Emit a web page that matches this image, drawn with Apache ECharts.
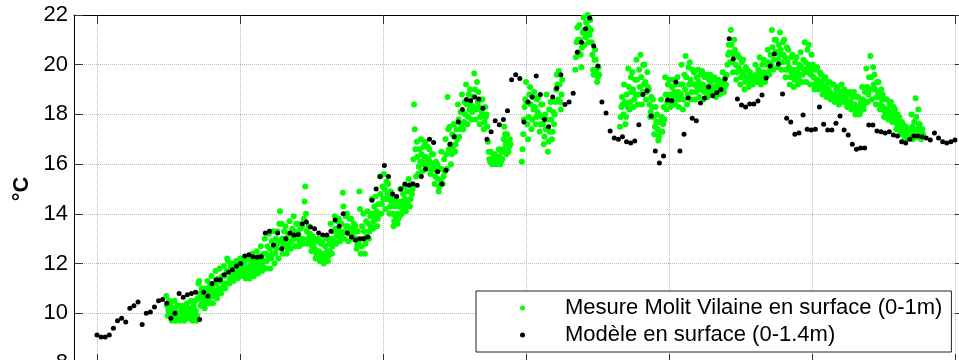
<!DOCTYPE html>
<html><head><meta charset="utf-8">
<script src="https://cdn.jsdelivr.net/npm/echarts@6/dist/echarts.min.js"></script>
<style>html,body{margin:0;padding:0;background:#fff}#c{width:959px;height:360px}</style>
</head><body><div id="c"></div>
<script>
// ---- data ----
const yTicks = [8, 10, 12, 14, 16, 18, 20, 22];
const xTickDays = [0, 34.84, 69.68, 104.52, 139.36, 174.2, 209.04];
const seriesNames = ['Mesure Molit Vilaine en surface (0-1m)', 'Modèle en surface (0-1.4m)'];
const yLabel = '°C';

// model: one value per day, from day 0
const modelValues = [
  9.13, 9.05, 9.05, 9.13, 9.4, 9.7, 9.8, 9.65, 10.2, 10.3,
  10.45, 9.55, 10.0, 10.05, 10.25, 10.5, 10.55, 10.4, 9.8, 10.0,
  10.8, 10.65, 10.75, 10.8, 10.85, 9.75, 10.85, 10.7, 11.2, 11.35,
  11.35, 11.55, 11.65, 11.75, 11.9, 12.0, 12.3, 12.35, 12.27, 12.25,
  12.27, 13.23, 13.3, 12.75, 13.23, 12.6, 13.0, 13.23, 13.15, 13.17,
  13.6, 13.67, 13.47, 13.4, 13.23, 13.15, 13.15, 13.3, 13.75, 13.5,
  14.0, 13.23, 13.07, 12.95, 13.0, 13.0, 13.07, 14.55, 15.0, 15.5,
  15.95, 15.5, 14.8, 14.7, 15.0, 15.2, 15.15, 15.2, 15.15, 15.5,
  15.8, 17.0, 16.87, 15.7, 15.2, 15.75, 16.8, 17.1, 17.7, 18.2,
  18.6, 18.55, 18.7, 18.62, 18.25, 17.0, 17.3, 17.75, 17.58, 17.8,
  18.15, 19.4, 19.6, 19.45, 17.7, 18.5, 18.7, 19.55, 18.8, 17.8,
  17.5, 18.7, 19.05, 19.6, 18.4, 18.5, 18.85, 20.5, 20.9, 21.45,
  21.88, 20.75, 19.95, 18.5, 18.06, 17.33, 17.05, 17.0, 17.1, 16.9,
  16.85, 16.93, 17.58, 18.8, 18.95, 17.94, 16.53, 16.05, 16.33, 18.58,
  18.55, 19.3, 16.53, 17.2, 18.66, 17.85, 17.75, 18.46, 18.66, 19.1,
  18.75, 18.87, 19.0, 19.43, 21.04, 20.23, 18.62, 18.38, 18.3, 18.42,
  18.42, 18.54, 18.78, 19.47, 19.95, 20.43, 20.03, 18.82, 17.85, 17.7,
  17.2, 17.25, 17.98, 17.4, 17.37, 17.4, 18.3, 17.6, 17.37, 17.37,
  17.65, 17.94, 17.37, 17.17, 16.8, 16.6, 16.65, 16.65, 17.57, 17.57,
  17.33, 17.3, 17.25, 17.3, 17.17, 17.13, 16.9, 16.85, 17.0, 17.13,
  17.13, 17.1, 17.05, 16.97, 17.25, 17.05, 16.9, 16.85, 16.9, 16.97
];

// measurements: segments of days, 6 readings per day
const measPerDay = 6;
const measStarts = [16.9, 103.5, 116.5, 127.4];
const measSeg1 = [
  [10.7,10.3,9.9,10.1,10.5,10.2],[10.4,10.0,9.7,9.8,10.2,9.9],[10.5,10.1,9.7,9.9,10.3,10.0],
  [10.3,9.9,9.7,9.8,10.1,10.0],[10.3,10.0,9.7,9.8,10.2,9.9],[10.4,10.1,9.8,9.9,10.2,10.0],
  [10.5,10.1,9.7,9.8,10.3,10.0],[10.5,10.1,9.7,9.9,10.6,11.2],[11.3,10.8,10.3,10.5,11.0,10.7],
  [10.9,10.5,10.2,10.4,11.0,10.6],[11.3,10.9,10.4,10.6,11.1,10.8],[11.5,11.0,10.4,10.7,11.2,10.9],
  [11.7,11.2,10.6,10.8,11.4,11.0],[11.8,11.3,10.8,11.0,11.5,11.2],[11.9,11.5,11.0,11.2,11.7,12.2],
  [12.1,11.7,11.2,11.4,11.9,11.6],[12.0,11.6,11.3,11.5,11.9,11.7],[12.1,11.8,11.4,11.6,12.0,11.7],
  [12.2,11.8,11.5,11.6,12.0,11.9],[12.1,11.7,11.4,11.6,12.2,11.8],[12.3,11.9,11.4,11.6,12.1,11.8],
  [12.4,12.0,11.5,11.7,12.2,11.9],[12.5,12.1,11.6,11.8,12.3,12.0],[12.7,12.2,11.7,11.9,12.4,12.1],
  [13.0,12.4,11.8,12.1,12.7,12.3],[13.2,12.6,11.8,12.2,12.9,12.4],[13.3,12.7,12.0,12.4,13.0,12.6],
  [13.3,12.8,12.2,13.6,14.1,12.9],[13.6,13.0,12.4,12.7,13.3,12.9],[13.5,13.0,12.4,12.6,13.2,12.8],
  [13.7,13.2,12.6,12.9,13.4,13.1],[13.9,13.3,12.7,13.0,13.6,13.2],[13.6,13.2,12.7,12.9,13.4,13.0],
  [13.5,13.0,12.8,13.8,14.5,15.1],[14.0,13.3,12.8,13.0,13.5,13.2],[13.2,12.9,12.5,12.7,13.1,12.8],
  [13.0,12.6,12.2,12.4,12.9,12.5],[13.0,12.5,12.1,12.3,12.8,12.4],[12.9,12.4,12.0,12.2,12.7,12.3],
  [13.0,12.5,12.1,12.3,12.8,12.5],[13.6,13.0,12.4,12.7,13.3,12.9],[13.9,13.4,12.8,13.1,13.7,13.3],
  [13.8,13.3,12.9,13.1,13.6,13.2],[14.85,14.3,13.0,13.3,13.9,13.5],[14.0,13.5,12.9,13.2,13.8,13.4],
  [13.8,13.4,13.0,13.2,13.6,13.3],[13.5,13.0,12.6,12.8,13.3,12.9],[14.9,14.2,12.4,12.7,13.5,13.0],
  [14.0,13.3,12.4,12.8,13.7,13.1],[14.1,13.6,13.0,13.3,13.9,13.5],[14.6,14.0,13.4,13.7,14.3,13.9],
  [14.7,14.1,13.5,13.8,14.4,14.0],[15.5,14.8,14.0,14.4,15.1,14.6],[15.6,15.0,14.2,14.6,15.3,14.8],
  [15.2,14.6,14.0,14.3,14.9,14.5],[14.6,14.0,13.5,13.7,14.3,13.9],[14.5,14.0,13.6,13.8,14.3,13.9],
  [15.0,14.5,14.0,14.2,14.8,14.4],[15.1,14.6,14.1,14.3,14.9,14.5],[15.4,14.9,14.3,14.6,15.2,14.8],
  [15.0,16.2,18.4,17.4,16.6,15.5],[16.9,16.3,15.6,15.9,16.6,16.1],[17.0,16.4,15.7,16.0,16.7,16.2],
  [16.9,16.3,15.8,16.0,16.7,16.2],[16.6,16.1,15.6,15.8,16.4,16.0],[16.4,15.8,15.2,15.5,16.1,15.7],
  [16.0,15.4,14.9,15.1,15.8,15.3],[16.5,15.8,15.2,15.5,16.2,15.7],[17.0,16.4,15.8,18.7,17.4,16.6],
  [17.5,16.8,16.0,16.4,17.2,16.7],[17.6,17.1,16.5,16.8,17.4,17.0],[18.4,17.8,17.1,17.4,18.1,17.6],
  [18.8,18.1,17.4,17.7,18.5,18.0],[19.2,18.4,17.6,17.9,18.8,18.2],[19.0,18.4,17.8,18.1,18.7,18.3],
  [19.65,19.0,17.8,18.2,19.3,18.5],[18.9,18.3,17.6,17.9,18.6,18.1],[18.6,18.0,17.4,17.7,18.3,17.9],
  [18.0,17.5,16.9,16.5,16.2,16.1],[16.5,16.2,16.0,16.1,16.4,16.2],[16.4,16.2,16.0,16.1,16.3,16.1],
  [16.6,16.3,16.0,16.1,16.5,16.2],[16.6,17.0,17.5,17.2,16.8,16.4],[17.2,16.9,16.5,16.7,17.0,16.8]
];
const measSeg2 = [
  [16.1,16.6,17.2,17.8,18.3,18.6],[19.3,18.5,17.6,17.0,17.9,18.8],[19.1,18.4,17.4,17.8,18.7,18.2],
  [18.9,18.3,17.6,17.9,18.6,18.1],[18.7,18.0,17.3,17.6,18.4,17.9],[18.4,17.6,16.8,17.1,18.0,17.4],
  [18.8,17.8,16.5,16.9,18.2,17.3],[18.5,17.8,17.0,17.3,18.1,17.6],[18.0,18.5,19.0,19.6,19.2,18.6],
  [19.75,19.2,18.5,18.2,18.8,19.4]
];
const measSeg3 = [
  [19.8,20.3,20.9,21.5,21.0,20.5],[21.6,21.0,20.4,19.9,20.7,21.3],[21.9,21.4,20.8,21.1,21.7,21.3],
  [22.0,21.5,20.9,21.2,21.8,21.4],[20.9,20.4,19.8,19.6,20.2,20.6],[20.2,19.8,19.3,19.5,19.9,19.6]
];
const measSeg4 = [
  [17.5,17.9,18.3,18.7,18.4,18.0],[19.2,18.5,17.6,17.9,18.8,18.3],[19.85,19.1,18.2,18.5,19.5,18.9],
  [19.7,19.0,18.3,18.6,19.4,18.8],[20.2,19.4,18.4,18.8,19.8,19.1],[20.4,19.5,18.4,18.9,20.0,19.2],
  [20.0,19.3,18.6,18.9,19.7,19.1],[19.0,18.4,17.9,18.1,18.7,18.3],[18.6,17.9,17.2,17.5,18.3,17.7],
  [18.0,17.4,16.95,17.1,17.7,17.3],[18.6,17.9,17.3,17.6,18.3,17.8],[19.5,18.8,18.2,18.5,19.2,18.7],
  [19.4,18.8,18.3,18.5,19.1,18.7],[19.4,18.9,18.4,18.6,19.2,18.8],[19.5,18.9,18.3,18.6,19.2,18.8],
  [20.0,19.2,18.2,18.6,19.6,19.0],[20.35,19.5,18.4,18.8,19.9,19.2],[20.1,19.4,18.6,18.9,19.8,19.2],
  [19.7,19.2,18.6,18.9,19.5,19.1],[19.8,19.3,18.7,19.0,19.6,19.2],[19.75,19.2,18.6,18.9,19.5,19.1],
  [19.6,19.1,18.7,18.9,19.4,19.0],[19.6,19.2,18.8,19.0,19.4,19.1],[19.5,19.1,18.7,18.9,19.3,19.0],
  [19.4,19.1,18.8,18.9,19.3,19.0],[19.7,19.3,18.9,19.1,19.5,19.2],[19.6,20.0,20.4,20.8,20.5,20.1],
  [21.4,20.8,20.1,19.7,20.4,21.0],[20.6,20.0,19.4,19.7,20.4,19.9],[20.3,19.8,19.2,19.5,20.1,19.7],
  [20.2,19.6,19.0,19.3,19.9,19.5],[19.8,19.4,19.1,19.3,19.7,19.4],[19.6,19.4,19.2,19.3,19.5,19.4],
  [20.0,19.6,19.3,19.4,19.8,19.5],[20.3,19.7,19.2,19.4,20.0,19.6],[20.2,19.7,19.3,19.5,20.0,19.6],
  [20.6,20.1,19.6,19.8,20.4,20.0],[21.4,20.7,19.8,20.2,21.0,20.5],[21.0,20.5,19.9,20.2,20.8,20.4],
  [21.3,20.6,19.8,20.1,20.9,20.4],[21.0,20.3,19.5,19.8,20.7,20.1],[20.6,19.9,19.2,19.5,20.3,19.7],
  [20.4,19.8,19.1,19.4,20.1,19.6],[20.3,19.8,19.2,19.4,20.0,19.6],[20.5,19.9,19.3,19.6,20.2,19.8],
  [20.9,20.1,19.3,19.7,20.6,19.9],[20.8,20.0,19.2,19.6,20.4,19.8],[20.0,19.5,19.0,19.2,19.8,19.4],
  [19.9,19.4,19.0,19.2,19.7,19.3],[19.6,19.2,18.8,19.0,19.4,19.1],[19.5,19.1,18.7,18.9,19.3,19.0],
  [19.3,18.9,18.6,18.7,19.2,18.8],[19.2,18.8,18.5,18.6,19.0,18.7],[19.1,18.7,18.4,18.5,18.9,18.6],
  [19.2,18.8,18.5,18.6,19.0,18.7],[18.9,18.6,18.3,18.4,18.8,18.5],[18.9,18.5,18.2,18.3,18.7,18.4],
  [18.9,18.4,18.0,18.2,18.7,18.3],[18.7,18.3,18.0,18.1,18.5,18.2],[19.1,18.6,18.2,18.4,18.9,18.5],
  [19.85,19.1,18.5,18.8,19.5,19.0],[20.35,19.5,18.6,19.0,19.9,19.2],[19.6,19.0,18.4,18.7,19.3,18.9],
  [19.3,18.7,18.2,18.4,19.0,18.6],[18.8,18.3,17.9,18.1,18.6,18.2],[18.6,18.2,17.8,18.0,18.4,18.1],
  [18.5,18.1,17.7,17.9,18.3,18.0],[18.2,17.8,17.4,17.6,18.0,17.7],[17.9,17.5,17.2,17.3,17.7,17.4],
  [17.6,17.3,17.0,17.1,17.5,17.2],[17.4,17.2,17.05,17.1,17.3,17.2],[18.0,17.5,17.0,17.2,17.7,17.3],
  [18.65,17.9,17.1,17.4,18.2,17.6],[17.6,17.3,17.0,17.1,17.4,17.2]
];

// ---- build series data ----
const modelData = modelValues.map((v, i) => [i, v]);
const measData = [];
[measSeg1, measSeg2, measSeg3, measSeg4].forEach((seg, s) => {
  seg.forEach((day, j) => {
    day.forEach((v, k) => measData.push([measStarts[s] + j + k / measPerDay, v]));
  });
});

const FONT = "'Liberation Sans', Arial, Helvetica, sans-serif";
const xMin = -5.6, xMax = 211.2;

const chart = echarts.init(document.getElementById('c'), null, { renderer: 'canvas' });
chart.setOption({
  animation: false,
  backgroundColor: '#fff',
  textStyle: { fontFamily: FONT },
  grid: { left: 74, top: 15, right: -5, bottom: -3, containLabel: false, outerBoundsMode: 'none' },
  legend: {
    orient: 'vertical', left: 476, top: 291,
    padding: [6, 9, 6, 44], itemGap: 5, itemWidth: 5, itemHeight: 5,
    icon: 'circle', borderColor: '#222', borderWidth: 1, backgroundColor: '#fff',
    selectedMode: false,
    textStyle: { fontSize: 22, fontFamily: FONT, color: '#000', lineHeight: 22, padding: [0, 0, 0, 35] },
    data: seriesNames
  },
  xAxis: [{
    type: 'value', position: 'bottom', min: xMin, max: xMax,
    axisLine: { show: true, onZero: false, lineStyle: { color: '#000', width: 1 } },
    axisTick: { show: true, inside: true, length: 9, customValues: xTickDays, lineStyle: { color: '#333' } },
    axisLabel: { show: false, customValues: xTickDays },
    splitLine: { show: true, lineStyle: { type: 'dotted', color: '#bcbcbc', width: 1 } }
  }, {
    type: 'value', position: 'top', min: xMin, max: xMax,
    axisLine: { show: true, onZero: false, lineStyle: { color: '#000', width: 1 } },
    axisTick: { show: true, inside: true, length: 9, customValues: xTickDays, lineStyle: { color: '#333' } },
    axisLabel: { show: false, customValues: xTickDays },
    splitLine: { show: false }
  }],
  yAxis: [{
    type: 'value', position: 'left', min: yTicks[0], max: yTicks[yTicks.length - 1], interval: 2,
    name: yLabel, nameLocation: 'middle', nameGap: 40,
    nameTextStyle: { fontSize: 22, fontWeight: 'bold', color: '#000', fontFamily: FONT },
    axisLine: { show: true, onZero: false, lineStyle: { color: '#000', width: 1 } },
    axisTick: { show: true, inside: true, length: 9, lineStyle: { color: '#333' } },
    axisLabel: { show: true, margin: 6, fontSize: 22, color: '#000', fontFamily: FONT },
    splitLine: { show: true, lineStyle: { type: 'dotted', color: '#bcbcbc', width: 1 } }
  }, {
    type: 'value', position: 'right', min: yTicks[0], max: yTicks[yTicks.length - 1], interval: 2,
    axisLine: { show: true, onZero: false, lineStyle: { color: '#000', width: 1 } },
    axisTick: { show: true, inside: true, length: 9, lineStyle: { color: '#333' } },
    axisLabel: { show: false },
    splitLine: { show: false }
  }],
  series: [{
    name: seriesNames[0], type: 'scatter', xAxisIndex: 0, yAxisIndex: 0,
    symbol: 'circle', symbolSize: 6, data: measData,
    itemStyle: { color: '#00ff00', opacity: 1 }, z: 2
  }, {
    name: seriesNames[1], type: 'scatter', xAxisIndex: 0, yAxisIndex: 0,
    symbol: 'circle', symbolSize: 5, data: modelData,
    itemStyle: { color: '#000', opacity: 1 }, z: 3
  }]
});
</script>
</body></html>
